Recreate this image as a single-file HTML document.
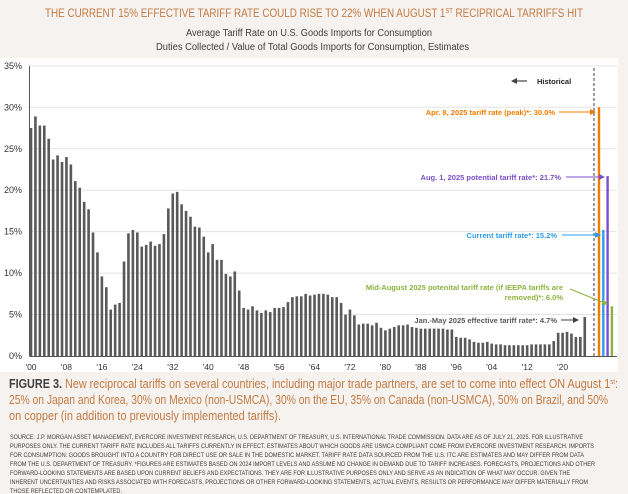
<!DOCTYPE html>
<html><head><meta charset="utf-8"><style>
html,body{margin:0;padding:0;background:#f5f2ef;}
svg{display:block;font-family:"Liberation Sans",sans-serif;}
</style></head><body>
<svg width="628" height="494" viewBox="0 0 628 494">
<rect x="0" y="0" width="628" height="494" fill="#f5f2ef"/>
<rect x="0" y="58" width="618" height="314" fill="#ffffff"/>
<text x="45" y="17" textLength="538" lengthAdjust="spacingAndGlyphs" font-size="12" fill="#c47a42">THE CURRENT 15% EFFECTIVE TARIFF RATE COULD RISE TO 22% WHEN AUGUST 1<tspan font-size="7" dy="-4">ST</tspan><tspan dy="4"> RECIPRICAL TARRIFFS HIT</tspan></text>
<text x="186" y="36" textLength="246" lengthAdjust="spacingAndGlyphs" font-size="10" fill="#404040">Average Tariff Rate on U.S. Goods Imports for Consumption</text>
<text x="156" y="50" textLength="313" lengthAdjust="spacingAndGlyphs" font-size="10" fill="#404040">Duties Collected / Value of Total Goods Imports for Consumption, Estimates</text>
<g id="grid"></g>
<g id="yticks"></g>
<g id="bars"></g>
<g id="xticks"></g>
<g id="proj"></g>
<line x1="594" y1="68" x2="594" y2="356" stroke="#404040" stroke-width="1" stroke-dasharray="3,2"/>
<defs>
<marker id="ah" markerWidth="6" markerHeight="6" refX="5" refY="3" orient="auto"><path d="M0,0 L6,3 L0,6 z" fill="context-stroke"/></marker>
<marker id="ahg" markerWidth="6" markerHeight="6" refX="5" refY="3" orient="auto"><path d="M0,0 L6,3 L0,6 z" fill="#404040"/></marker>
<marker id="aho" markerWidth="6" markerHeight="6" refX="5" refY="3" orient="auto"><path d="M0,0 L6,3 L0,6 z" fill="#f07c00"/></marker>
<marker id="ahp" markerWidth="6" markerHeight="6" refX="5" refY="3" orient="auto"><path d="M0,0 L6,3 L0,6 z" fill="#7b4fc9"/></marker>
<marker id="ahb" markerWidth="6" markerHeight="6" refX="5" refY="3" orient="auto"><path d="M0,0 L6,3 L0,6 z" fill="#2d9cf0"/></marker>
<marker id="ahn" markerWidth="6" markerHeight="6" refX="5" refY="3" orient="auto"><path d="M0,0 L6,3 L0,6 z" fill="#8cb33e"/></marker>
</defs>
<g>
<line x1="527" y1="81" x2="512" y2="81" stroke="#222" stroke-width="1" marker-end="url(#ahg)"/>
<text x="537" y="84" font-size="7.5" font-weight="bold" fill="#222">Historical</text>
</g>
<g>
<text x="555" y="115" text-anchor="end" font-size="7.5" font-weight="bold" fill="#f07c00">Apr. 8, 2025 tariff rate (peak)*: 30.0%</text>
<line x1="559" y1="112" x2="595" y2="112" stroke="#f07c00" stroke-width="1" marker-end="url(#aho)"/>
</g>
<g>
<text x="561" y="180" text-anchor="end" font-size="7.5" font-weight="bold" fill="#7b4fc9">Aug. 1, 2025 potential tariff rate*: 21.7%</text>
<line x1="566" y1="177" x2="604" y2="177" stroke="#7b4fc9" stroke-width="1" marker-end="url(#ahp)"/>
</g>
<g>
<text x="557" y="238" text-anchor="end" font-size="7.5" font-weight="bold" fill="#2d9cf0">Current tariff rate*: 15.2%</text>
<line x1="562" y1="235" x2="600" y2="235" stroke="#2d9cf0" stroke-width="1" marker-end="url(#ahb)"/>
</g>
<g>
<text x="563" y="290" text-anchor="end" font-size="7.5" font-weight="bold" fill="#8cb33e">Mid-August 2025 potenital tariff rate (if IEEPA tariffs are</text>
<text x="563" y="300" text-anchor="end" font-size="7.5" font-weight="bold" fill="#8cb33e">removed)*: 6.0%</text>
<line x1="570" y1="289" x2="607" y2="304" stroke="#8cb33e" stroke-width="1" marker-end="url(#ahn)"/>
</g>
<g>
<text x="557" y="323" text-anchor="end" font-size="7.5" font-weight="bold" fill="#595959">Jan.-May 2025 effective tariff rate*: 4.7%</text>
<line x1="561" y1="320" x2="578" y2="320" stroke="#404040" stroke-width="1" marker-end="url(#ahg)"/>
</g>
<text x="9" y="388" font-size="12.5" fill="#c47a42" textLength="609" lengthAdjust="spacingAndGlyphs"><tspan font-weight="bold" fill="#404040">FIGURE 3.</tspan> New reciprocal tariffs on several countries, including major trade partners, are set to come into effect ON August 1<tspan font-size="7" dy="-4">st</tspan><tspan dy="4">:</tspan></text>
<text x="9" y="404" font-size="12.5" fill="#c47a42" textLength="599" lengthAdjust="spacingAndGlyphs">25% on Japan and Korea, 30% on Mexico (non-USMCA), 30% on the EU, 35% on Canada (non-USMCA), 50% on Brazil, and 50%</text>
<text x="9" y="420" font-size="12.5" fill="#c47a42" textLength="272" lengthAdjust="spacingAndGlyphs">on copper (in addition to previously implemented tariffs).</text>
<g font-size="6.3" fill="#404040">
<text x="10" y="439" textLength="573" lengthAdjust="spacingAndGlyphs">SOURCE: J.P. MORGAN ASSET MANAGEMENT, EVERCORE INVESTMENT RESEARCH, U.S. DEPARTMENT OF TREASURY, U.S. INTERNATIONAL TRADE COMMISSION. DATA ARE AS OF JULY 21, 2025. FOR ILLUSTRATIVE</text>
<text x="10" y="448" textLength="584" lengthAdjust="spacingAndGlyphs">PURPOSES ONLY. THE CURRENT TARIFF RATE INCLUDES ALL TARIFFS CURRENTLY IN EFFECT. ESTIMATES ABOUT WHICH GOODS ARE USMCA COMPLIANT COME FROM EVERCORE INVESTMENT RESEARCH. IMPORTS</text>
<text x="10" y="457" textLength="574" lengthAdjust="spacingAndGlyphs">FOR CONSUMPTION: GOODS BROUGHT INTO A COUNTRY FOR DIRECT USE OR SALE IN THE DOMESTIC MARKET. TARIFF RATE DATA SOURCED FROM THE U.S. ITC ARE ESTIMATES AND MAY DIFFER FROM DATA</text>
<text x="10" y="466" textLength="585" lengthAdjust="spacingAndGlyphs">FROM THE U.S. DEPARTMENT OF TREASURY. *FIGURES ARE ESTIMATES BASED ON 2024 IMPORT LEVELS AND ASSUME NO CHANGE IN DEMAND DUE TO TARIFF INCREASES. FORECASTS, PROJECTIONS AND OTHER</text>
<text x="10" y="475" textLength="560" lengthAdjust="spacingAndGlyphs">FORWARD-LOOKING STATEMENTS ARE BASED UPON CURRENT BELIEFS AND EXPECTATIONS. THEY ARE FOR ILLUSTRATIVE PURPOSES ONLY AND SERVE AS AN INDICATION OF WHAT MAY OCCUR. GIVEN THE</text>
<text x="10" y="484" textLength="578" lengthAdjust="spacingAndGlyphs">INHERENT UNCERTAINTIES AND RISKS ASSOCIATED WITH FORECASTS, PROJECTIONS OR OTHER FORWARD-LOOKING STATEMENTS, ACTUAL EVENTS, RESULTS OR PERFORMANCE MAY DIFFER MATERIALLY FROM</text>
<text x="10" y="493" textLength="112" lengthAdjust="spacingAndGlyphs">THOSE REFLECTED OR CONTEMPLATED.</text>
</g>
</svg>
<script>
const startYear = 1900;
const tariffRates = [27.5,28.9,27.8,27.8,26.2,23.7,24.2,23.4,24.0,23.1,
21.1,20.3,18.6,17.7,14.9,12.5,9.6,8.3,5.6,6.2,
6.4,11.4,14.8,15.2,14.9,13.2,13.4,13.8,13.3,13.5,
14.7,17.8,19.6,19.8,18.3,17.5,16.8,15.6,15.5,14.4,
12.5,13.5,11.6,11.6,9.9,9.6,10.2,7.9,5.8,5.6,
6.0,5.5,5.2,5.5,5.3,5.8,5.8,5.9,6.5,7.1,
7.2,7.2,7.5,7.3,7.4,7.5,7.5,7.4,7.1,7.1,
6.4,5.0,5.6,4.9,3.8,3.9,3.9,3.7,4.0,3.4,
3.1,3.3,3.5,3.7,3.7,3.8,3.5,3.4,3.3,3.3,
3.3,3.3,3.3,3.3,3.2,3.2,2.3,2.2,2.2,2.0,
1.7,1.6,1.6,1.7,1.5,1.4,1.4,1.3,1.3,1.3,
1.3,1.3,1.3,1.4,1.4,1.4,1.4,1.4,1.8,2.8,
2.8,2.9,2.7,2.3,2.3,4.7];
const projLabels = ["peak","current","aug1","midaug"];
const projValues = [30.0,15.2,21.7,6.0];
const projColors = ["#f07c00","#2d9cf0","#7b4fc9","#8cb33e"];
const yTicks = [0,5,10,15,20,25,30,35];
const xTickYears = [1900,1908,1916,1924,1932,1940,1948,1956,1964,1972,1980,1988,1996,2004,2012,2020];

const NS = "http://www.w3.org/2000/svg";
const y0 = 356, pxPerPct = 8.29;
function yScale(v){ return y0 - v*pxPerPct; }
function xScale(yr){ return 31 + (yr-1900)*4.43; }
function mk(tag, attrs, parent){ const e=document.createElementNS(NS,tag); for(const k in attrs) e.setAttribute(k,attrs[k]); parent.appendChild(e); return e; }

const grid=document.getElementById('grid'), yt=document.getElementById('yticks');
yTicks.forEach(t=>{
  if(t>0){ const l=mk('line',{x1:30,x2:617,y1:yScale(t),y2:yScale(t),stroke:'#e3e3e3','stroke-width':1},grid);
    
     }
  const tx=mk('text',{x:22,y:yScale(t)+3,'text-anchor':'end','font-size':9,fill:'#333'},yt);
  tx.textContent=t+'%';
  
  
});
const ax=mk('line',{x1:29.5,x2:29.5,y1:yScale(35),y2:y0,stroke:'#555','stroke-width':1},yt);



const bars=document.getElementById('bars');
tariffRates.forEach((v,i)=>{
  const x=xScale(startYear+i);
  const r=mk('rect',{x:x-1.3,y:yScale(v),width:2.6,height:v*pxPerPct,fill:'#595959'},bars);
  
  
});
const xt=document.getElementById('xticks');
const xl=mk('line',{x1:29.5,x2:617,y1:y0+0.5,y2:y0+0.5,stroke:'#555','stroke-width':1},xt);


xTickYears.forEach(yr=>{
  const t=mk('text',{x:xScale(yr),y:370,'text-anchor':'middle','font-size':8.5,fill:'#333'},xt);
  t.textContent="'"+String(yr%100).padStart(2,'0');
  
  
});
const proj=document.getElementById('proj');
projValues.forEach((v,i)=>{
  const x=599+i*4.3;
  const r=mk('rect',{x:x-1.2,y:yScale(v),width:2.4,height:v*pxPerPct,fill:projColors[i]},proj);
  
  
});
</script>
</body></html>
